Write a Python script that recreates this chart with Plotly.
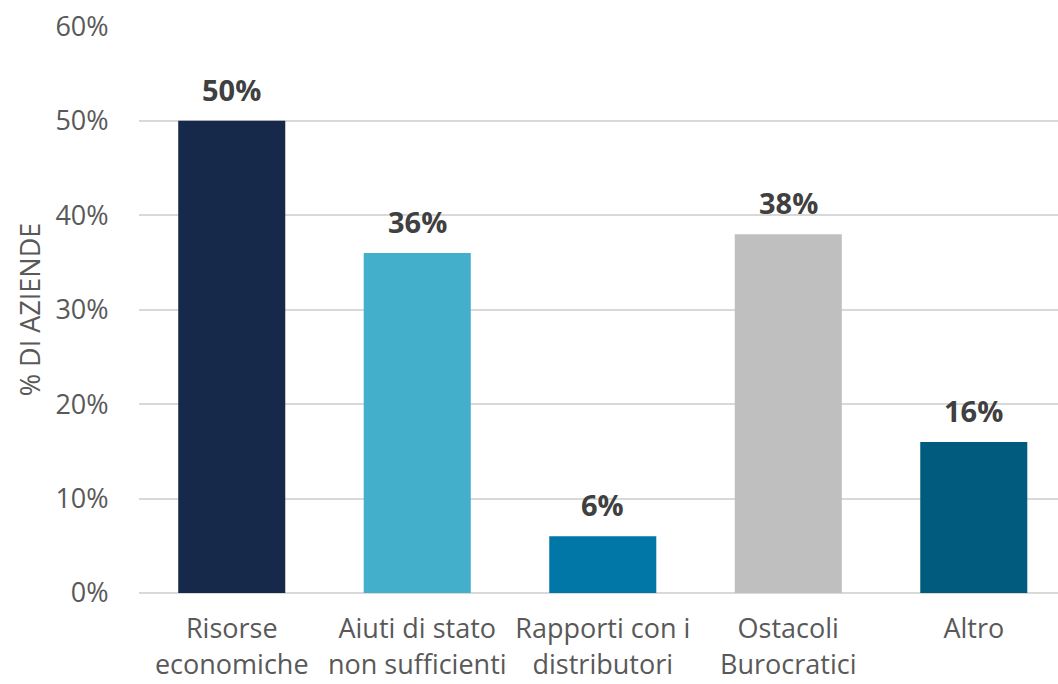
import plotly.graph_objects as go

categories = ["Risorse<br>economiche", "Aiuti di stato<br>non sufficienti", "Rapporti con i<br>distributori", "Ostacoli<br>Burocratici", "Altro"]
values = [0.50, 0.36, 0.06, 0.38, 0.16]
labels = ["50%", "36%", "6%", "38%", "16%"]
colors = ["#16294B", "#43AFCA", "#0077A6", "#BFBFBF", "#005B7F"]
y_ticks = [0, 0.1, 0.2, 0.3, 0.4, 0.5, 0.6]

xs = list(range(len(categories)))

fig = go.Figure(go.Bar(
    x=xs,
    y=values,
    marker=dict(color=colors, line=dict(width=0)),
    width=0.577,
    hoverinfo="skip",
))

for x, v, t in zip(xs, values, labels):
    fig.add_annotation(
        x=x, y=v, text=t, showarrow=False, yanchor="bottom", yshift=10,
        font=dict(family="Open Sans", size=29, color="#404040", weight="bold"),
    )

fig.update_layout(
    width=1058, height=684,
    margin=dict(l=139, r=0, t=26, b=91),
    plot_bgcolor="white", paper_bgcolor="white",
    showlegend=False,
    font=dict(family="Open Sans", color="#595959"),
    xaxis=dict(
        tickmode="array", tickvals=xs, ticktext=categories,
        range=[-0.5, 4.454], showgrid=False, zeroline=False, showline=False,
        ticks="outside", ticklen=12, tickcolor="rgba(0,0,0,0)",
        tickfont=dict(family="Open Sans", size=27, color="#595959"),
        automargin=False,
    ),
    yaxis=dict(
        range=[0, 0.6004], tickvals=y_ticks, tickformat=".0%",
        showgrid=True, gridcolor="#D9D9D9", gridwidth=2,
        zeroline=True, zerolinecolor="#D9D9D9", zerolinewidth=2,
        ticks="outside", ticklen=24, tickcolor="rgba(0,0,0,0)",
        tickfont=dict(family="Open Sans", size=27, color="#595959"),
        title=dict(text="% DI AZIENDE", font=dict(family="Open Sans", size=27, color="#595959"), standoff=6),
        automargin=False,
    ),
)

fig.write_html(
    "out.html",
    config={"displayModeBar": False},
    post_script="document.body.style.margin='0';document.body.style.overflow='hidden';",
)
